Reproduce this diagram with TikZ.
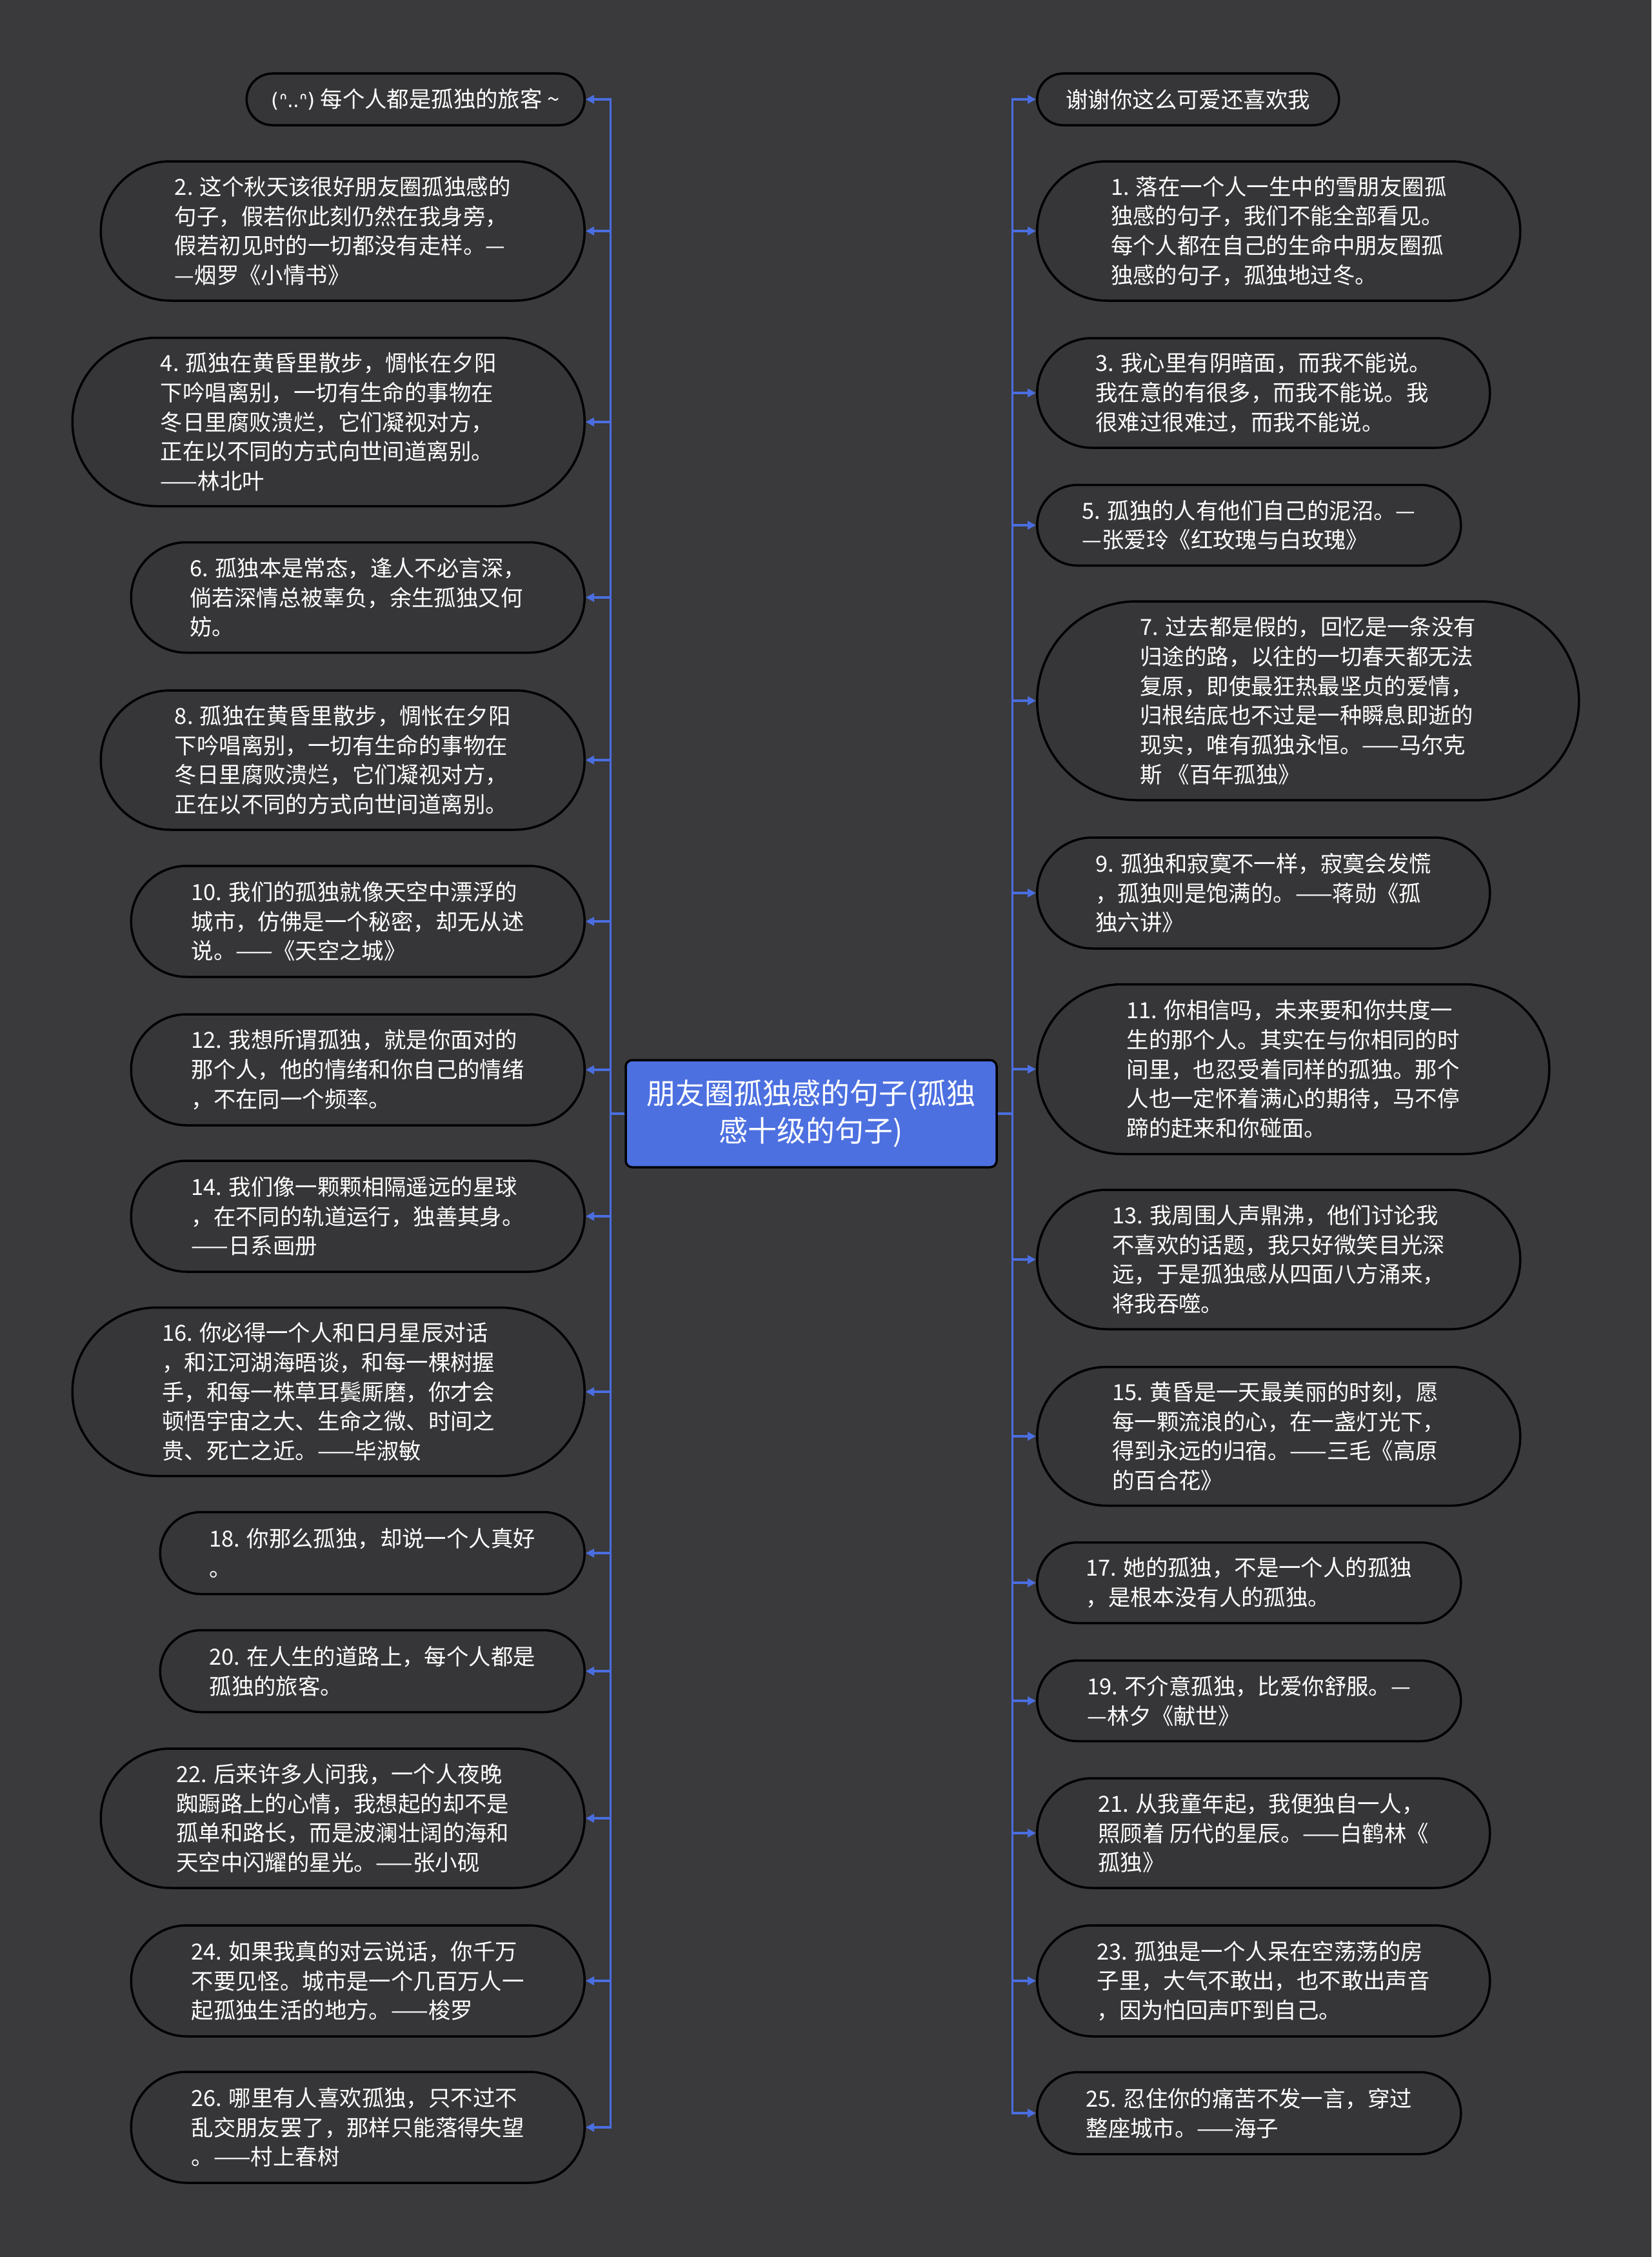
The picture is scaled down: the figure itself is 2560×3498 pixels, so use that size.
\documentclass[tikz,border=0pt]{standalone}
\usepackage{fontspec}
\setmainfont{Noto Sans CJK SC}
\newfontfamily\dejavu{DejaVu Sans}
\usetikzlibrary{arrows.meta}
\definecolor{bg}{HTML}{3A393B}
\definecolor{nodefill}{HTML}{363537}
\definecolor{linkblue}{HTML}{4A6EE0}
\definecolor{titleblue}{HTML}{4D70E0}
\tikzset{
  pill/.style 2 args={draw=black, line width=3.5pt, fill=nodefill, text=white,
    minimum width=#1pt, minimum height=#2pt, rounded corners=#2*0.5pt,
    inner sep=0pt, align=left, font=\fontsize{34.4}{45.7}\selectfont},
  lnode/.style 2 args={pill={#1}{#2}, anchor=east},
  rnode/.style 2 args={pill={#1}{#2}, anchor=west},
  titlebox/.style={draw=black, line width=3.5pt, fill=titleblue, text=white,
    minimum width=575pt, minimum height=166pt, rounded corners=10pt,
    inner sep=0pt, align=center, font=\fontsize{45}{58}\selectfont},
  conn/.style={draw=linkblue, line width=3.2pt, -{Triangle[length=13pt,width=13pt]}}
}
\begin{document}
\begin{tikzpicture}[x=1pt,y=-1pt]
\fill[bg] (0,0) rectangle (2560,3498);
\useasboundingbox (0,0) rectangle (2560,3498);

\node[titlebox] (c) at (1257.5,1726) {朋友圈孤独感的句子(孤独\\感十级的句子)};

% left side
\node[lnode={524}{80}] (L0) at (908,154) {{\dejavu\fontsize{31}{34}\selectfont (ᐢ..ᐢ)} 每个人都是孤独的旅客 \textasciitilde};
\node[lnode={750}{216}] (L2) at (908,358) {2. 这个秋天该很好朋友圈孤独感的\\句子，假若你此刻仍然在我身旁，\\假若初见时的一切都没有走样。—\\—烟罗《小情书》};
\node[lnode={794}{261}] (L4) at (908,654) {4. 孤独在黄昏里散步，惆怅在夕阳\\下吟唱离别，一切有生命的事物在\\冬日里腐败溃烂，它们凝视对方，\\正在以不同的方式向世间道离别。\\——林北叶};
\node[lnode={703}{171}] (L6) at (908,926) {6. 孤独本是常态，逢人不必言深，\\倘若深情总被辜负，余生孤独又何\\妨。};
\node[lnode={750}{216}] (L8) at (908,1178) {8. 孤独在黄昏里散步，惆怅在夕阳\\下吟唱离别，一切有生命的事物在\\冬日里腐败溃烂，它们凝视对方，\\正在以不同的方式向世间道离别。};
\node[lnode={703}{172}] (L10) at (908,1428) {10. 我们的孤独就像天空中漂浮的\\城市，仿佛是一个秘密，却无从述\\说。——《天空之城》};
\node[lnode={703}{172}] (L12) at (908,1658) {12. 我想所谓孤独，就是你面对的\\那个人，他的情绪和你自己的情绪\\，不在同一个频率。};
\node[lnode={703}{172}] (L14) at (908,1885) {14. 我们像一颗颗相隔遥远的星球\\，在不同的轨道运行，独善其身。\\——日系画册};
\node[lnode={794}{261}] (L16) at (908,2157) {16. 你必得一个人和日月星辰对话\\，和江河湖海晤谈，和每一棵树握\\手，和每一株草耳鬓厮磨，你才会\\顿悟宇宙之大、生命之微、时间之\\贵、死亡之近。——毕淑敏};
\node[lnode={658}{127}] (L18) at (908,2407) {18. 你那么孤独，却说一个人真好\\。};
\node[lnode={658}{127}] (L20) at (908,2590) {20. 在人生的道路上，每个人都是\\孤独的旅客。};
\node[lnode={750}{216}] (L22) at (908,2818) {22. 后来许多人问我，一个人夜晚\\踟蹰路上的心情，我想起的却不是\\孤单和路长，而是波澜壮阔的海和\\天空中闪耀的星光。——张小砚};
\node[lnode={703}{172}] (L24) at (908,3070) {24. 如果我真的对云说话，你千万\\不要见怪。城市是一个几百万人一\\起孤独生活的地方。——梭罗};
\node[lnode={703}{172}] (L26) at (908,3297) {26. 哪里有人喜欢孤独，只不过不\\乱交朋友罢了，那样只能落得失望\\。——村上春树};

% right side
\node[rnode={468}{80}] (R0) at (1606,154) {谢谢你这么可爱还喜欢我};
\node[rnode={749}{216}] (R1) at (1606,358) {1. 落在一个人一生中的雪朋友圈孤\\独感的句子，我们不能全部看见。\\每个人都在自己的生命中朋友圈孤\\独感的句子，孤独地过冬。};
\node[rnode={702}{170}] (R3) at (1606,609) {3. 我心里有阴暗面，而我不能说。\\我在意的有很多，而我不能说。我\\很难过很难过，而我不能说。};
\node[rnode={657}{125}] (R5) at (1606,814) {5. 孤独的人有他们自己的泥沼。—\\—张爱玲《红玫瑰与白玫瑰》};
\node[rnode={840}{308}] (R7) at (1606,1086) {7. 过去都是假的，回忆是一条没有\\归途的路，以往的一切春天都无法\\复原，即使最狂热最坚贞的爱情，\\归根结底也不过是一种瞬息即逝的\\现实，唯有孤独永恒。——马尔克\\斯 《百年孤独》};
\node[rnode={702}{172}] (R9) at (1606,1384) {9. 孤独和寂寞不一样，寂寞会发慌\\，孤独则是饱满的。——蒋勋《孤\\独六讲》};
\node[rnode={794}{263}] (R11) at (1606,1657) {11. 你相信吗，未来要和你共度一\\生的那个人。其实在与你相同的时\\间里，也忍受着同样的孤独。那个\\人也一定怀着满心的期待，马不停\\蹄的赶来和你碰面。};
\node[rnode={749}{216}] (R13) at (1606,1952) {13. 我周围人声鼎沸，他们讨论我\\不喜欢的话题，我只好微笑目光深\\远，于是孤独感从四面八方涌来，\\将我吞噬。};
\node[rnode={749}{215}] (R15) at (1606,2226) {15. 黄昏是一天最美丽的时刻，愿\\每一颗流浪的心，在一盏灯光下，\\得到永远的归宿。——三毛《高原\\的百合花》};
\node[rnode={657}{125}] (R17) at (1606,2453) {17. 她的孤独，不是一个人的孤独\\，是根本没有人的孤独。};
\node[rnode={657}{125}] (R19) at (1606,2636) {19. 不介意孤独，比爱你舒服。—\\—林夕《献世》};
\node[rnode={702}{170}] (R21) at (1606,2841) {21. 从我童年起，我便独自一人，\\照顾着 历代的星辰。——白鹤林《\\孤独》};
\node[rnode={702}{172}] (R23) at (1606,3070) {23. 孤独是一个人呆在空荡荡的房\\子里，大气不敢出，也不敢出声音\\，因为怕回声吓到自己。};
\node[rnode={657}{127}] (R25) at (1606,3275) {25. 忍住你的痛苦不发一言，穿过\\整座城市。——海子};

% connectors
\foreach \n in {L0,L2,L4,L6,L8,L10,L12,L14,L16,L18,L20,L22,L24,L26}
  \draw[conn] (c.west) -- ++(-22,0) |- (\n.east);
\foreach \n in {R0,R1,R3,R5,R7,R9,R11,R13,R15,R17,R19,R21,R23,R25}
  \draw[conn] (c.east) -- ++(23,0) |- (\n.west);
\end{tikzpicture}
\end{document}
